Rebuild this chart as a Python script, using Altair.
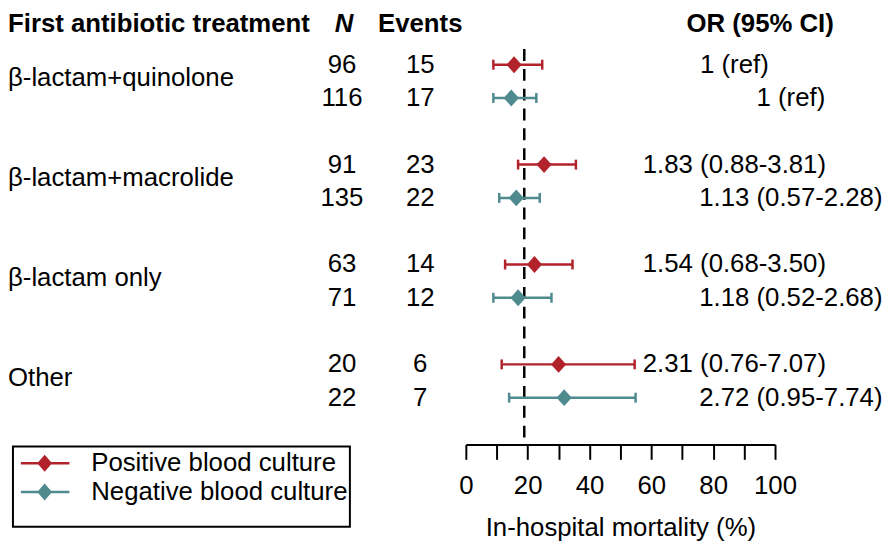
import altair as alt
import pandas as pd

# ---------------- data ----------------
groups = ["β-lactam+quinolone", "β-lactam+macrolide", "β-lactam only", "Other"]
series = ["Positive blood culture", "Negative blood culture"]
colors = ["#B2222A", "#4E8A8E"]

n_pos = [96, 91, 63, 20]
n_neg = [116, 135, 71, 22]
ev_pos = [15, 23, 14, 6]
ev_neg = [17, 22, 12, 7]
mort_pos = [15.6, 25.3, 22.2, 30.0]
mort_neg = [14.7, 16.3, 16.9, 31.8]
lo_pos = [8.9, 16.9, 12.7, 11.6]
hi_pos = [24.7, 35.6, 34.5, 54.6]
lo_neg = [8.9, 10.8, 8.9, 14.0]
hi_neg = [22.8, 23.9, 27.7, 54.9]
or_pos = ["1 (ref)", "1.83 (0.88-3.81)", "1.54 (0.68-3.50)", "2.31 (0.76-7.07)"]
or_neg = ["1 (ref)", "1.13 (0.57-2.28)", "1.18 (0.52-2.68)", "2.72 (0.95-7.74)"]
overall_mortality = 18.9
x_ticks = list(range(0, 101, 10))

headers = ["First antibiotic treatment", "N", "Events", "OR (95% CI)"]
x_title = "In-hospital mortality (%)"

# ---------------- tables ----------------
recs = []
for g in range(len(groups)):
    for s, (n, ev, m, lo, hi, orv) in enumerate([
        (n_pos[g], ev_pos[g], mort_pos[g], lo_pos[g], hi_pos[g], or_pos[g]),
        (n_neg[g], ev_neg[g], mort_neg[g], lo_neg[g], hi_neg[g], or_neg[g]),
    ]):
        recs.append(dict(group=groups[g], series=series[s], row=3 * g + s,
                         n=str(n), ev=str(ev), mort=m, lo=lo, hi=hi, orci=orv))
df = pd.DataFrame(recs)
grp_df = pd.DataFrame({"group": groups, "row": [3 * g + 0.5 for g in range(len(groups))]})

HEADER_ROW = -1.22
ref_df = pd.DataFrame({"x": [overall_mortality], "y0": [-0.47], "y1": [11.405]})
hdr_df = pd.DataFrame({"row": [HEADER_ROW]})

FONT = "Liberation Sans"
FS = 26

xscale = alt.Scale(domain=[0, 100], nice=False, zero=False)
xaxis = alt.Axis(values=x_ticks,
                 labelExpr="datum.value % 20 === 0 ? datum.label : ''",
                 title=x_title, grid=False,
                 domainColor="black", domainWidth=2,
                 tickColor="black", tickWidth=2, tickSize=15,
                 labelFont=FONT, labelFontSize=FS, labelColor="black",
                 labelPadding=13, labelFlush=False, labelOverlap=False,
                 titleFont=FONT, titleFontSize=FS, titleFontWeight="normal",
                 titleColor="black", titlePadding=17)
yscale = alt.Scale(domain=[-1.631, 11.405], reverse=True, nice=False, zero=False)


def X(f):
    return alt.X(f, type="quantitative", scale=xscale, axis=xaxis)


def Y(f):
    return alt.Y(f, type="quantitative", scale=yscale, axis=None)


cscale = alt.Scale(domain=series, range=colors)

legend_path = ("M-0.6,-0.083L2.667,-0.083L2.667,0.083L-0.6,0.083Z"
               "M0.5,0L1,-0.567L1.5,0L1,0.567Z")

legend = alt.Legend(orient="none", legendX=-457, legendY=440,
                    title="\u00a0", titleOrient="bottom", titleFontSize=14,
                    titlePadding=6,
                    strokeColor="black", padding=2, rowPadding=1,
                    symbolType=legend_path, symbolSize=900, symbolStrokeWidth=0,
                    symbolOpacity=1, labelOffset=47, labelLimit=400,
                    labelExpr="datum.label + '\u00a0\u00a0\u00a0'",
                    labelFont=FONT, labelFontSize=FS, labelColor="black")

ref_line = alt.Chart(ref_df).mark_rule(color="black", strokeWidth=2.5,
                                        strokeDash=[12, 8]).encode(
    x=X("x"), y=Y("y0"), y2="y1")

bars = alt.Chart(df).mark_rule(strokeWidth=2.5).encode(
    x=X("lo"), x2="hi", y=Y("row"),
    color=alt.Color("series:N", scale=cscale, legend=legend))

caps = alt.Chart(df).transform_fold(["lo", "hi"], as_=["end", "val"]).mark_tick(
    orient="vertical", size=10, thickness=2.5, opacity=1).encode(
    x=X("val"), y=Y("row"),
    color=alt.Color("series:N", scale=cscale, legend=legend))

points = alt.Chart(df).mark_point(shape="M-0.9,0L0,-1L0.9,0L0,1Z", filled=True,
                                  size=289, opacity=1).encode(
    x=X("mort"), y=Y("row"),
    color=alt.Color("series:N", scale=cscale, legend=legend))


def txt(data, text, x, align="center", weight="normal", style="normal", dy=0, filt=None):
    ch = alt.Chart(data)
    if filt is not None:
        ch = ch.transform_filter(filt)
    return ch.mark_text(font=FONT, fontSize=FS, color="black", align=align,
                        baseline="middle", fontWeight=weight, fontStyle=style,
                        dy=dy).encode(x=alt.value(x), y=Y("row"), text=text)


n_txt = txt(df, alt.Text("n:N"), -125)
ev_txt = txt(df, alt.Text("ev:N"), -46)
or_pos_txt = txt(df, alt.Text("orci:N"), 271, filt=alt.datum.series == series[0])
or_neg_txt = txt(df, alt.Text("orci:N"), 328, filt=alt.datum.series == series[1])
grp_txt = txt(grp_df, alt.Text("group:N"), -462, align="left", dy=-3)

h1 = txt(hdr_df, alt.value(headers[0]), -462, align="left", weight="bold")
h2 = txt(hdr_df, alt.value(headers[1]), -123, weight="bold", style="italic")
h3 = txt(hdr_df, alt.value(headers[2]), -46, weight="bold")
h4 = txt(hdr_df, alt.value(headers[3]), 297, weight="bold")

chart = alt.layer(ref_line, bars, caps, points, n_txt, ev_txt, or_pos_txt,
                  or_neg_txt, grp_txt, h1, h2, h3, h4).properties(
    width=312, height=438,
    autosize=alt.AutoSizeParams(type="none"),
    padding={"left": 462, "top": 0, "right": 114, "bottom": 95},
).configure_view(stroke=None).configure_legend(strokeWidth=2)

chart.save("out.html", embed_options={"renderer": "svg", "actions": False})
